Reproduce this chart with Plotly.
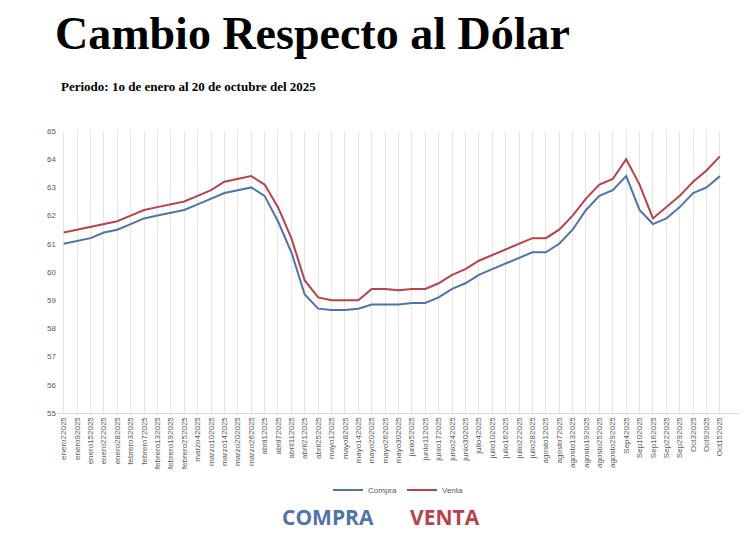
import plotly.graph_objects as go

labels = ["enero22025","enero92025","enero152025","enero222025","enero282025","febrero32025","febrero72025","febrero132025","febrero192025","febrero252025",
"marzo42025","marzo102025","marzo142025","marzo202025","marzo262025","abril12025","abril72025","abril112025","abril212025","abril252025",
"mayo12025","mayo82025","mayo142025","mayo202025","mayo262025","mayo302025","junio52025","junio112025","junio172025","junio242025",
"junio302025","julio42025","julio102025","julio162025","julio222025","julio282025","agosto12025","agosto72025","agosto132025","agosto192025",
"agosto252025","agosto292025","Sep42025","Sep102025","Sep162025","Sep222025","Sep292025","Oct32025","Oct92025","Oct152025"]
compra = [61.0,61.1,61.2,61.4,61.5,61.7,61.9,62.0,62.1,62.2,
62.4,62.6,62.8,62.9,63.0,62.7,61.8,60.7,59.2,58.7,
58.65,58.65,58.7,58.85,58.85,58.85,58.9,58.9,59.1,59.4,
59.6,59.9,60.1,60.3,60.5,60.7,60.7,61.0,61.5,62.2,
62.7,62.9,63.4,62.2,61.7,61.9,62.3,62.8,63.0,63.4]
venta = [61.4,61.5,61.6,61.7,61.8,62.0,62.2,62.3,62.4,62.5,
62.7,62.9,63.2,63.3,63.4,63.1,62.3,61.2,59.7,59.1,
59.0,59.0,59.0,59.4,59.4,59.35,59.4,59.4,59.6,59.9,
60.1,60.4,60.6,60.8,61.0,61.2,61.2,61.5,62.0,62.6,
63.1,63.3,64.0,63.1,61.9,62.3,62.7,63.2,63.6,64.1]

fig = go.Figure()
fig.add_trace(go.Scatter(x=labels, y=compra, name="Compra", mode="lines",
                         line=dict(color="#4f74a8", width=2)))
fig.add_trace(go.Scatter(x=labels, y=venta, name="Venta", mode="lines",
                         line=dict(color="#b8424a", width=2)))
fig.update_layout(
    width=734, height=528, paper_bgcolor="white", plot_bgcolor="white",
    margin=dict(l=49, r=2, t=123, b=123, autoexpand=False),
    font=dict(family="Liberation Sans", color="#595959"),
    xaxis=dict(tickangle=-90, tickfont=dict(size=8), showgrid=True, gridcolor="#e6e6e6",
               showline=True, linecolor="#d9d9d9", range=[-0.5, 50.5], automargin=False),
    yaxis=dict(range=[55, 65], dtick=1, tickfont=dict(size=8), showgrid=False,
               zeroline=False, ticks="", automargin=False),
    legend=dict(orientation="h", x=0.5, xanchor="center", y=1-(490-131)/282, yanchor="middle",
                font=dict(size=8), bgcolor="rgba(0,0,0,0)"),
    showlegend=True,
)
fig.add_annotation(text="<b>Cambio Respecto al Dólar</b>", xref="paper", yref="paper",
                   x=-4/683, y=1+(131-33)/282, xanchor="left", yanchor="middle", showarrow=False,
                   font=dict(family="Liberation Serif", size=46, color="black"))
fig.add_annotation(text="<b>Periodo: 1o de enero al 20 de octubre del 2025</b>", xref="paper", yref="paper",
                   x=2/683, y=1+(131-86)/282, xanchor="left", yanchor="middle", showarrow=False,
                   font=dict(family="Liberation Serif", size=13, color="black"))
fig.add_annotation(text="<b>COMPRA</b>", xref="paper", yref="paper",
                   x=(328-57)/683, y=1-(517-131)/282, xanchor="center", yanchor="middle", showarrow=False,
                   font=dict(family="Open Sans", size=21, color="#4f74a8"))
fig.add_annotation(text="<b>VENTA</b>", xref="paper", yref="paper",
                   x=(445-57)/683, y=1-(517-131)/282, xanchor="center", yanchor="middle", showarrow=False,
                   font=dict(family="Open Sans", size=21, color="#b8424a"))
fig.write_html("out.html")
